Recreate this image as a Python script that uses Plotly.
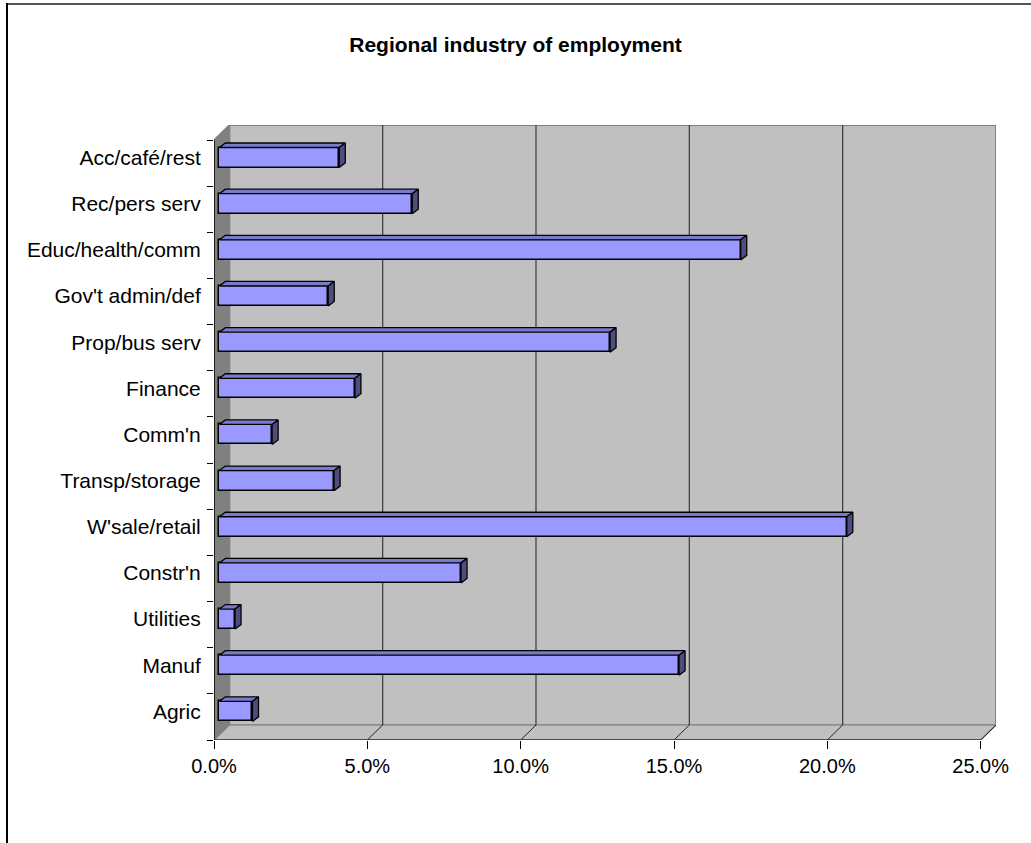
import plotly.graph_objects as go

# ---------------- data ----------------
categories = ["Agric", "Manuf", "Utilities", "Constr'n", "W'sale/retail", "Transp/storage",
              "Comm'n", "Finance", "Prop/bus serv", "Gov't admin/def", "Educ/health/comm",
              "Rec/pers serv", "Acc/café/rest"]
values_pct = [1.08, 14.99, 0.51, 7.88, 20.46, 3.74, 1.72, 4.42, 12.74, 3.55, 17.0, 6.29, 3.91]
x_tickvals = [0, 5, 10, 15, 20, 25]
x_ticktext = ["0.0%", "5.0%", "10.0%", "15.0%", "20.0%", "25.0%"]
title_text = "Regional industry of employment"

# ---------------- geometry (3D oblique look) ----------------
W, H = 1031, 843
ML, MR, MT, MB = 214, 35, 125, 103
n = len(categories)
DX = 0.5          # wall depth in x units
DY = 0.325        # wall depth in y units
XOFF = 0.175      # bar depth position (x)
YOFF = 0.12       # bar depth position (y)
BAR_H = 0.434
BDX = 0.196       # bar depth (x)
BDY = 0.098       # bar depth (y)
xmax = x_tickvals[-1]
y0 = -0.5
y1 = n - 0.5

FONT = "Liberation Sans, Arial, sans-serif"
BAR_FRONT = "#9999FF"
BAR_TOP = "#7A7ACC"
BAR_SIDE = "#4D4D80"

fig = go.Figure()

ypos = [i + YOFF for i in range(n)]
fig.add_trace(go.Bar(
    orientation="h", x=values_pct, y=ypos, base=XOFF, width=BAR_H,
    marker=dict(color=BAR_FRONT, line=dict(color="black", width=1.5)),
    hoverinfo="skip", showlegend=False,
))

# top and side faces of the bars, computed from the values
tx, ty, sx, sy = [], [], [], []
for yc, v in zip(ypos, values_pct):
    yt = yc + BAR_H / 2
    yb = yc - BAR_H / 2
    xr = XOFF + v
    tx += [XOFF, xr, xr + BDX, XOFF + BDX, XOFF, None]
    ty += [yt, yt, yt + BDY, yt + BDY, yt, None]
    sx += [xr, xr, xr + BDX, xr + BDX, xr, None]
    sy += [yb, yt, yt + BDY, yb + BDY, yb, None]
fig.add_trace(go.Scatter(x=tx, y=ty, mode="lines", fill="toself", fillcolor=BAR_TOP,
                         line=dict(color="black", width=1.3), hoverinfo="skip", showlegend=False))
fig.add_trace(go.Scatter(x=sx, y=sy, mode="lines", fill="toself", fillcolor=BAR_SIDE,
                         line=dict(color="black", width=1.3), hoverinfo="skip", showlegend=False))

shapes = []
# back wall
shapes.append(dict(type="rect", x0=DX, x1=xmax + DX, y0=y0 + DY, y1=y1 + DY, layer="below",
                   fillcolor="#C0C0C0", line=dict(color="#808080", width=2)))
# floor
shapes.append(dict(type="path", layer="below",
                   path=f"M0,{y0} L{xmax},{y0} L{xmax + DX},{y0 + DY} L{DX},{y0 + DY} Z",
                   fillcolor="#C0C0C0", line=dict(color="#909090", width=1.5)))
# side wall
shapes.append(dict(type="path", layer="below",
                   path=f"M0,{y0} L0,{y1} L{DX},{y1 + DY} L{DX},{y0 + DY} Z",
                   fillcolor="#808080", line=dict(color="#808080", width=1)))
# gridlines on back wall and floor
for t in x_tickvals[1:-1]:
    shapes.append(dict(type="line", layer="below", x0=t + DX, x1=t + DX, y0=y0 + DY, y1=y1 + DY,
                       line=dict(color="#3A3A3A", width=1.2)))
for t in x_tickvals[1:]:
    shapes.append(dict(type="line", layer="below", x0=t, x1=t + DX, y0=y0, y1=y0 + DY,
                       line=dict(color="#222222", width=1)))
# axis lines
shapes.append(dict(type="line", x0=0, x1=0, y0=y0, y1=y1, line=dict(color="black", width=1.5)))
shapes.append(dict(type="line", x0=0, x1=DX, y0=y1, y1=y1 + DY, line=dict(color="#808080", width=1.5)))
shapes.append(dict(type="line", x0=0, x1=xmax, y0=y0, y1=y0, line=dict(color="#333333", width=1.5)))

# chart border (top and left)
pw = W - ML - MR
ph = H - MT - MB
def px2x(px):
    return (px - ML) / pw
def py2y(py):
    return (H - MB - py) / ph
shapes.append(dict(type="line", xref="paper", yref="paper", x0=px2x(6), x1=px2x(W), y0=py2y(4), y1=py2y(4),
                   line=dict(color="#555555", width=2)))
shapes.append(dict(type="line", xref="paper", yref="paper", x0=px2x(7), x1=px2x(7), y0=py2y(3), y1=py2y(H),
                   line=dict(color="black", width=2)))

fig.update_layout(
    width=W, height=H,
    margin=dict(l=ML, r=MR, t=MT, b=MB, pad=0),
    paper_bgcolor="white", plot_bgcolor="white",
    font=dict(family=FONT, size=20, color="black"),
    title=dict(text=f"<b>{title_text}</b>", x=0.5, xanchor="center", xref="container",
               y=1 - 45 / H, yanchor="middle", font=dict(family=FONT, size=21, color="black")),
    shapes=shapes,
    showlegend=False,
    bargap=0,
)
fig.update_xaxes(range=[0, xmax + DX], tickmode="array", tickvals=x_tickvals, ticktext=x_ticktext,
                 ticks="outside", ticklen=8, tickwidth=1.2, tickcolor="black",
                 showgrid=False, zeroline=False, showline=False, fixedrange=True,
                 tickfont=dict(family=FONT, size=20, color="black"))
fig.update_yaxes(range=[y0, y1 + DY], tickmode="array", tickvals=ypos, ticktext=categories,
                 ticks="outside", ticklen=8, tickcolor="rgba(0,0,0,0)",
                 minor=dict(tickmode="array", tickvals=[i - 0.5 for i in range(n + 1)],
                            ticks="outside", ticklen=6, tickwidth=1.2, tickcolor="black", showgrid=False),
                 showgrid=False, zeroline=False, showline=False, fixedrange=True,
                 tickfont=dict(family=FONT, size=21, color="black"))

fig.write_html("out.html")
